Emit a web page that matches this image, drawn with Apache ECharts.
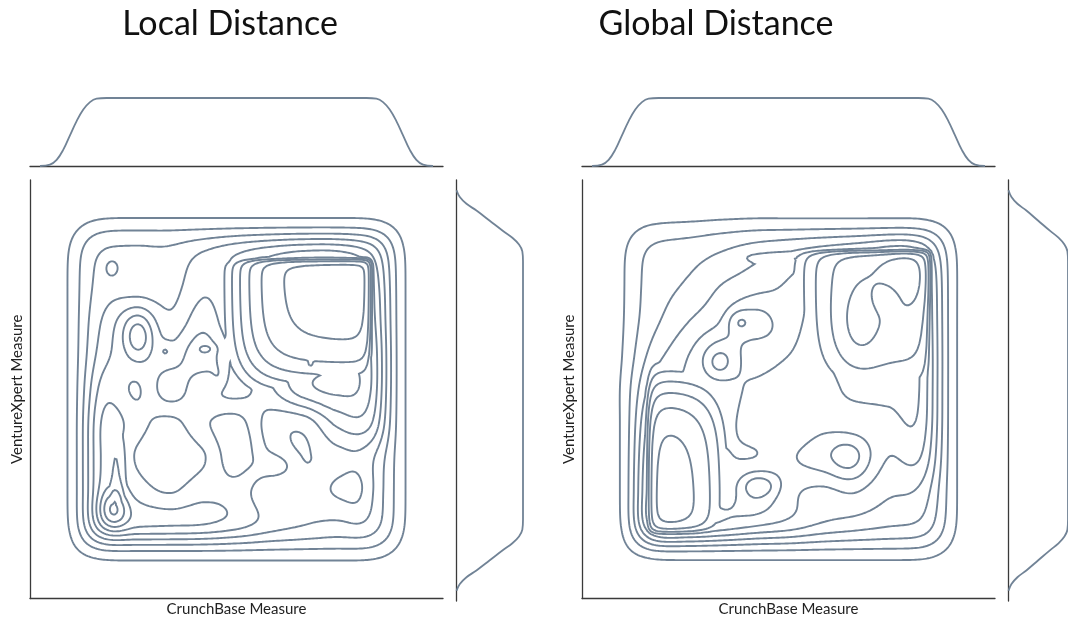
<!DOCTYPE html>
<html><head><meta charset="utf-8">
<script src="https://cdn.jsdelivr.net/npm/echarts@6/dist/echarts.min.js"></script>
<style>html,body{margin:0;padding:0;background:#fff}#c{width:1068px;height:622px}</style>
</head><body><div id="c"></div>
<script>
// ---------- text ----------
const panelTitles = ['Local Distance', 'Global Distance'];
const xAxisName = 'CrunchBase Measure';
const yAxisName = 'VentureXpert Measure';

// ---------- marginal KDE curves (rank scale position, relative density) ----------
const topMarginPos = [-0.09,-0.06,-0.04,-0.02,0,0.02,0.04,0.06,0.08,0.11,0.5,0.89,0.92,0.94,0.96,0.98,1.0,1.02,1.04,1.06,1.09];
const localTopMargin = [0,0.02,0.09,0.24,0.45,0.66,0.83,0.94,0.99,1,1,1,0.99,0.94,0.83,0.66,0.45,0.24,0.09,0.02,0];
const globalTopMargin = [0,0.02,0.09,0.24,0.45,0.66,0.83,0.94,0.99,1,1,1,0.99,0.94,0.83,0.66,0.45,0.24,0.09,0.02,0];
const sideMarginPos = [-0.09,-0.07,-0.05,-0.03,0,0.03,0.05,0.07,0.09,0.12,0.5,0.88,0.91,0.93,0.95,0.97,1.0,1.03,1.05,1.07,1.09];
const localSideMargin = [0,0.05,0.15,0.3,0.5,0.7,0.84,0.94,0.99,1,1,1,0.99,0.94,0.84,0.7,0.5,0.3,0.15,0.05,0];
const globalSideMargin = [0,0.05,0.15,0.3,0.5,0.7,0.84,0.94,0.99,1,1,1,0.99,0.94,0.84,0.7,0.5,0.3,0.15,0.05,0];

// ---------- 2-D density (in contour-level units) ----------
const contourLevels = [1,2,3,4,5,6,7,8,9,10,11];
const gridPos = [0,0.1,0.2,0.3,0.4,0.5,0.6,0.7,0.8,0.9,1.0];
// rows from top (v=1.0) to bottom (v=0.0), columns u=0..1
const localDensityGrid = [
  [3.6,3.6,3.6,3.6,3.6,3.6,3.6,3.6,3.6,3.6,3.6],
  [3.6,3.5,3.5,3.5,4.4,5.3,6.2,6.8,6.8,5.8,3.6],
  [3.6,3.7,3.5,3.6,4.8,4.6,6.4,7.8,7.8,6.8,3.6],
  [3.6,4.4,5.6,4.3,5.6,4.4,6.9,7.8,7.8,7.2,3.6],
  [3.6,4.9,5.6,5.4,6.6,4.8,6.4,7.2,7.6,7.6,3.6],
  [3.6,5.8,4.9,6.5,5.2,4.6,5.8,7.6,8.2,7.6,3.6],
  [3.6,6.6,5.4,4.7,5.8,6.4,4.6,4.4,6.2,6.6,3.6],
  [3.6,6.6,4.9,4.3,4.9,6.6,4.8,3.9,4.6,4.4,3.6],
  [3.6,6.6,5.5,4.9,5.6,5.6,4.2,4.2,5.0,4.0,3.6],
  [3.6,6.6,6.6,6.5,6.4,5.8,4.8,4.3,4.0,3.9,3.6],
  [3.6,3.6,3.6,3.6,3.6,3.6,3.6,3.6,3.6,3.6,3.6]
];
const globalDensityGrid = [
  [2.6,2.6,2.8,3.2,3.5,3.5,3.5,3.5,3.5,3.5,3.5],
  [2.6,2.6,2.8,3.3,3.9,4.4,5.0,5.5,6.0,5.5,3.5],
  [2.6,2.7,3.2,4.1,4.7,5.2,6.3,7.0,7.0,6.5,3.5],
  [2.7,3.0,4.0,5.0,6.4,5.6,6.8,7.5,7.0,7.0,3.5],
  [3.0,3.8,5.0,6.5,5.5,6.0,6.8,7.5,7.0,7.2,3.5],
  [3.5,5.0,5.3,5.5,6.3,6.8,6.4,7.3,7.3,7.2,3.5],
  [3.5,6.5,6.3,5.6,6.6,6.0,6.6,6.3,6.6,7.0,3.5],
  [3.5,7.5,7.5,6.2,6.0,6.8,7.5,7.4,6.0,6.3,3.5],
  [3.5,8.0,8.0,6.3,7.6,6.3,5.8,6.0,5.2,5.0,3.5],
  [3.5,8.0,8.0,7.2,6.6,6.0,5.2,4.8,4.4,4.2,3.5],
  [3.5,3.5,3.5,3.5,3.5,3.5,3.5,3.5,3.5,3.5,3.5]
];
// support edges [low, high, softness]
const localEdge = [0.022, 0.978, 0.05];
const globalEdge = [0.022, 0.978, 0.05];
// sharp-edged dense zones: [u0,u1,v0,v1,level,softLeft,softRight,softBottom,softTop]
const localZones = [
  [0.47,0.915,0.475,0.895,10.6,0.06,0.008,0.06,0.008],
  [0.35,0.62,0.83,0.90,6.5,0.05,0.05,0.02,0.008],
  [0.75,0.915,0.38,0.64,8.6,0.03,0.008,0.05,0.04],
  [0.10,0.19,0.10,0.48,8.5,0.012,0.025,0.02,0.05],
  [0.10,0.58,0.085,0.165,7.6,0.02,0.06,0.012,0.025]
];
const globalZones = [
  [0.50,0.935,0.42,0.92,8.8,0.06,0.008,0.07,0.008],
  [0.30,0.85,0.845,0.915,6.5,0.06,0.05,0.025,0.008],
  [0.86,0.93,0.25,0.80,8.3,0.02,0.008,0.07,0.05],
  [0.065,0.34,0.06,0.56,9.8,0.01,0.05,0.01,0.07],
  [0.065,0.13,0.30,0.62,7.5,0.01,0.02,0.04,0.06],
  [0.20,0.60,0.06,0.115,7.5,0.03,0.07,0.01,0.02]
];
// small peaks and dips: [u,v,height,spreadU,spreadV]
const localPeaks = [
  [0.125,0.86,1.0,0.018,0.022],
  [0.205,0.655,1.9,0.03,0.045],
  [0.287,0.615,0.8,0.015,0.016],
  [0.41,0.62,0.8,0.02,0.01],
  [0.448,0.535,0.9,0.02,0.028],
  [0.722,0.572,0.4,0.006,0.007],
  [0.13,0.145,2.5,0.03,0.04],
  [0.62,0.27,1.2,0.04,0.025],
  [0.87,0.2,0.9,0.035,0.07]
];
const globalPeaks = [
  [0.855,0.84,1.0,0.055,0.07],
  [0.71,0.69,1.0,0.05,0.1],
  [0.795,0.77,-0.7,0.03,0.03],
  [0.35,0.70,1.2,0.025,0.025],
  [0.29,0.575,1.0,0.028,0.03],
  [0.415,0.215,1.3,0.04,0.025],
  [0.68,0.30,1.0,0.04,0.05],
  [0.424,0.374,0.6,0.008,0.008]
];

// ---------- computation ----------
const AX_MIN = -0.12, AX_MAX = 1.12;
function erf(x){const s=x<0?-1:1;x=Math.abs(x);const t=1/(1+0.3275911*x);const y=1-(((((1.061405429*t-1.453152027)*t)+1.421413741)*t-0.284496736)*t+0.254829592)*t*Math.exp(-x*x);return s*y;}
function Phi(x){return 0.5*(1+erf(x/Math.SQRT2));}
function sig(x){return 1/(1+Math.exp(-x));}
function cr(p0,p1,p2,p3,t){return 0.5*((2*p1)+(-p0+p2)*t+(2*p0-5*p1+4*p2-p3)*t*t+(-p0+3*p1-3*p2+p3)*t*t*t);}
function gridVal(G,u,v){
  const n=gridPos.length-1;
  const fx=Math.min(Math.max(u,0),1)*n, fy=(1-Math.min(Math.max(v,0),1))*n;
  let ix=Math.floor(fx), iy=Math.floor(fy); if(ix>=n)ix=n-1; if(iy>=n)iy=n-1;
  const tx=fx-ix, ty=fy-iy;
  const g=(r,c)=>G[Math.min(Math.max(r,0),n)][Math.min(Math.max(c,0),n)];
  const rows=[];
  for(let r=-1;r<=2;r++)rows.push(cr(g(iy+r,ix-1),g(iy+r,ix),g(iy+r,ix+1),g(iy+r,ix+2),tx));
  return cr(rows[0],rows[1],rows[2],rows[3],ty);
}
function density(P,u,v){
  const e=P.edge;
  const m=(Phi((u-e[0])/e[2])-Phi((u-e[1])/e[2]))*(Phi((v-e[0])/e[2])-Phi((v-e[1])/e[2]));
  let h=gridVal(P.grid,u,v);
  for(const r of P.zones){const val=r[4]*sig((u-r[0])/r[5])*sig((r[1]-u)/r[6])*sig((v-r[2])/r[7])*sig((r[3]-v)/r[8]);if(val>h)h=val;}
  for(const b of P.peaks){const du=(u-b[0])/b[3],dv=(v-b[1])/b[4];h+=b[2]*Math.exp(-0.5*(du*du+dv*dv));}
  return m*h;
}
function contours(P){
  const N=230, step=(AX_MAX-AX_MIN)/(N-1);
  const z=new Float64Array(N*N);
  for(let j=0;j<N;j++)for(let i=0;i<N;i++)z[j*N+i]=density(P,AX_MIN+i*step,AX_MIN+j*step);
  const out=[];
  for(const L of contourLevels){
    const pts=new Map(); const segs=[]; const adj=new Map();
    const ptOf=(key,ia,ja,ib,jb)=>{
      if(!pts.has(key)){const za=z[ja*N+ia],zb=z[jb*N+ib];const t=(L-za)/(zb-za);pts.set(key,[AX_MIN+(ia+(ib-ia)*t)*step,AX_MIN+(ja+(jb-ja)*t)*step]);}
      return key;
    };
    const eKey=(i,j,e)=>{
      if(e===0)return ptOf((j*N+i)*2,i,j,i+1,j);
      if(e===1)return ptOf((j*N+i+1)*2+1,i+1,j,i+1,j+1);
      if(e===2)return ptOf(((j+1)*N+i)*2,i,j+1,i+1,j+1);
      return ptOf((j*N+i)*2+1,i,j,i,j+1);
    };
    const add=(i,j,a,b)=>{const ka=eKey(i,j,a),kb=eKey(i,j,b);const id=segs.length;segs.push([ka,kb]);
      if(!adj.has(ka))adj.set(ka,[]);adj.get(ka).push(id);if(!adj.has(kb))adj.set(kb,[]);adj.get(kb).push(id);};
    for(let j=0;j<N-1;j++)for(let i=0;i<N-1;i++){
      const z00=z[j*N+i],z10=z[j*N+i+1],z11=z[(j+1)*N+i+1],z01=z[(j+1)*N+i];
      const c=(z00>L?1:0)|(z10>L?2:0)|(z11>L?4:0)|(z01>L?8:0);
      if(c===0||c===15)continue;
      const ctr=(z00+z10+z11+z01)/4>L;
      switch(c){
        case 1:case 14:add(i,j,3,0);break;
        case 2:case 13:add(i,j,0,1);break;
        case 3:case 12:add(i,j,3,1);break;
        case 4:case 11:add(i,j,1,2);break;
        case 6:case 9:add(i,j,0,2);break;
        case 7:case 8:add(i,j,2,3);break;
        case 5:if(ctr){add(i,j,0,1);add(i,j,2,3);}else{add(i,j,3,0);add(i,j,1,2);}break;
        case 10:if(ctr){add(i,j,3,0);add(i,j,1,2);}else{add(i,j,0,1);add(i,j,2,3);}break;
      }
    }
    const used=new Uint8Array(segs.length);
    for(let s=0;s<segs.length;s++){
      if(used[s])continue;
      used[s]=1;
      const chain=[segs[s][0],segs[s][1]];
      for(let dir=0;dir<2;dir++){
        let guard=0;
        while(guard++<200000){
          const end=dir===0?chain[chain.length-1]:chain[0];
          const list=adj.get(end);let nxt=-1;
          for(const id of list){if(!used[id]){nxt=id;break;}}
          if(nxt<0)break;
          used[nxt]=1;
          const other=segs[nxt][0]===end?segs[nxt][1]:segs[nxt][0];
          if(dir===0)chain.push(other);else chain.unshift(other);
        }
      }
      out.push({coords:chain.map(k=>pts.get(k))});
    }
  }
  return out;
}

const localLines = contours({edge:localEdge,grid:localDensityGrid,zones:localZones,peaks:localPeaks});
const globalLines = contours({edge:globalEdge,grid:globalDensityGrid,zones:globalZones,peaks:globalPeaks});

// ---------- chart ----------
const LINE = '#718396';
const AXIS = '#3a3a3a';
const FONT = 'Lato, "Open Sans", sans-serif';
const panels = [{left:30},{left:582}];
const grids=[], xAxes=[], yAxes=[], series=[];
const axLine = {show:true,onZero:false,lineStyle:{color:AXIS,width:1.3}};
panels.forEach((p,k)=>{
  const g0=grids.length;
  grids.push({left:p.left,top:180,width:413,height:421});
  grids.push({left:p.left,top:98,width:413,height:68});
  grids.push({left:p.left+426.5,top:180,width:66.5,height:421});
  xAxes.push({gridIndex:g0,type:'value',min:AX_MIN,max:AX_MAX,axisLine:axLine,axisTick:{show:false},axisLabel:{show:false},splitLine:{show:false},
    name:xAxisName,nameLocation:'middle',nameGap:11,nameTextStyle:{fontFamily:FONT,fontSize:15,color:'#222',verticalAlign:'middle'}});
  yAxes.push({gridIndex:g0,type:'value',min:AX_MIN,max:AX_MAX,axisLine:axLine,axisTick:{show:false},axisLabel:{show:false},splitLine:{show:false},
    name:yAxisName,nameLocation:'middle',nameGap:13,nameTextStyle:{fontFamily:FONT,fontSize:15,color:'#222',verticalAlign:'middle'}});
  xAxes.push({gridIndex:g0+1,type:'value',min:AX_MIN,max:AX_MAX,axisLine:axLine,axisTick:{show:false},axisLabel:{show:false},splitLine:{show:false}});
  yAxes.push({gridIndex:g0+1,type:'value',min:0,max:1,show:false});
  xAxes.push({gridIndex:g0+2,type:'value',min:0,max:1,show:false});
  yAxes.push({gridIndex:g0+2,type:'value',min:AX_MIN,max:AX_MAX,axisLine:axLine,axisTick:{show:false},axisLabel:{show:false},splitLine:{show:false}});
  const lines = k===0?localLines:globalLines;
  series.push({type:'lines',coordinateSystem:'cartesian2d',xAxisIndex:g0,yAxisIndex:g0,polyline:true,silent:true,data:lines,
    lineStyle:{color:LINE,width:1.9,opacity:1},animation:false});
  const tm = k===0?localTopMargin:globalTopMargin;
  const sm = k===0?localSideMargin:globalSideMargin;
  series.push({type:'line',xAxisIndex:g0+1,yAxisIndex:g0+1,smooth:0.4,showSymbol:false,silent:true,
    data:topMarginPos.map((x,i)=>[x,tm[i]]),lineStyle:{color:LINE,width:1.8},animation:false});
  series.push({type:'line',xAxisIndex:g0+2,yAxisIndex:g0+2,smooth:0.4,showSymbol:false,silent:true,
    data:sideMarginPos.map((y,i)=>[sm[i],y]),lineStyle:{color:LINE,width:1.8},animation:false});
});

const chart = echarts.init(document.getElementById('c'),null,{renderer:'canvas'});
chart.setOption({
  animation:false,
  backgroundColor:'#fff',
  grid:grids, xAxis:xAxes, yAxis:yAxes, series:series,
  graphic:[
    {type:'text',x:230,y:24,style:{text:panelTitles[0],font:'34px '+FONT,fill:'#111',textAlign:'center',textVerticalAlign:'middle'}},
    {type:'text',x:716,y:24,style:{text:panelTitles[1],font:'34px '+FONT,fill:'#111',textAlign:'center',textVerticalAlign:'middle'}}
  ]
});
</script></body></html>
